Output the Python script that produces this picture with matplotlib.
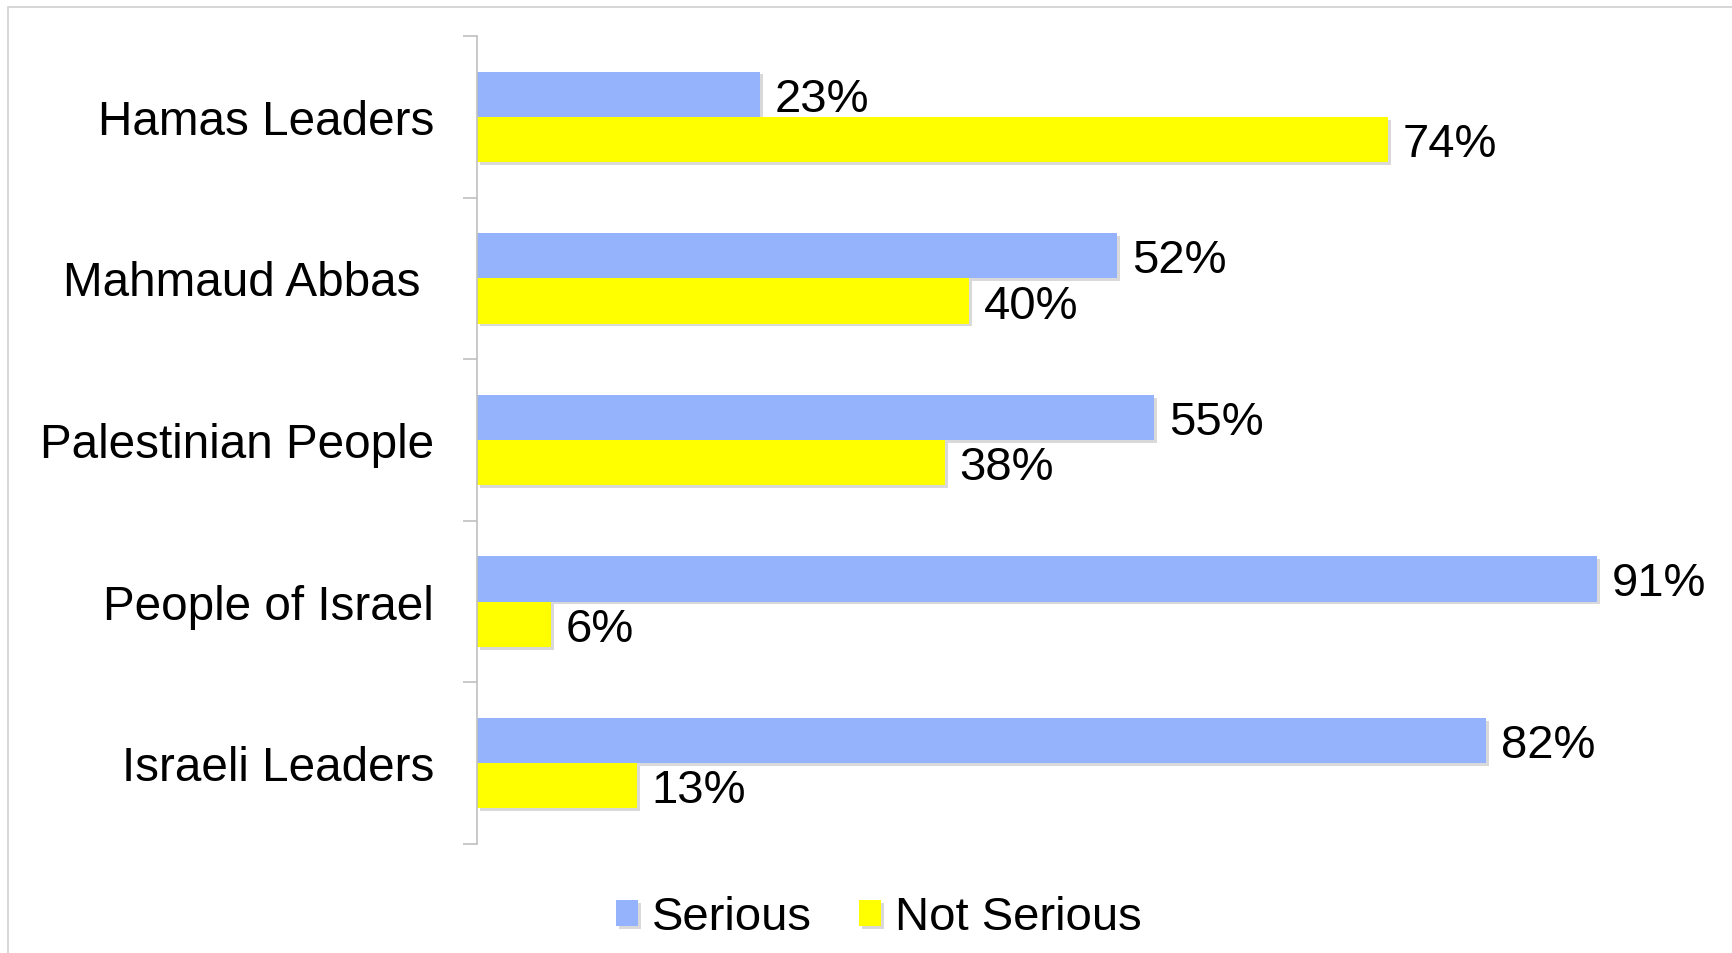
import matplotlib
matplotlib.use("Agg")
import matplotlib.pyplot as plt
import matplotlib.patheffects as pe
from matplotlib.patches import Rectangle
import numpy as np

plt.rcParams['font.family'] = ['Liberation Sans', 'DejaVu Sans']

categories = ["Hamas Leaders", "Mahmaud Abbas ", "Palestinian People",
              "People of Israel", "Israeli Leaders"]
serious = [23, 52, 55, 91, 82]
not_serious = [74, 40, 38, 6, 13]
series_names = ["Serious", "Not Serious"]

blue = "#94b3fc"
yellow = "#ffff00"
grey = "#c0c0c0"

fig = plt.figure(figsize=(17.32, 9.535), dpi=100)
ax = fig.add_axes([477 / 1732, 1 - 844 / 953, (1708 - 477) / 1732, (844 - 36.5) / 953])

# light frame around the chart area (left and top edges visible)
fig.patches.append(Rectangle((8 / 1732, -0.1), 1.2, 1 - 7 / 953 + 0.1,
                             transform=fig.transFigure, fill=False,
                             edgecolor="#cfcfcf", linewidth=1.2))

y = np.arange(len(categories))
h = 0.28
shadow = [pe.SimplePatchShadow(offset=(2, -2), shadow_rgbFace="#000000", alpha=0.15), pe.Normal()]

b1 = ax.barh(y - h / 2, serious, height=h, color=blue, label=series_names[0])
b2 = ax.barh(y + h / 2, not_serious, height=h, color=yellow, label=series_names[1])
for bars in (b1, b2):
    for p in bars:
        p.set_path_effects(shadow)

for bars, vals in ((b1, serious), (b2, not_serious)):
    for p, v in zip(bars, vals):
        ax.annotate(f"{v}%", (p.get_width(), p.get_y() + p.get_height() / 2),
                    xytext=(10.5, 0), textcoords="offset points",
                    ha="left", va="center_baseline", fontsize=34, color="black",
                    annotation_clip=False)

ax.set_xlim(0, 100)
ax.set_ylim(len(categories) - 0.5, -0.5)
ax.set_yticks(y)
ax.set_yticklabels(categories, fontsize=34.3)
ax.tick_params(axis="y", which="major", length=0, pad=31)
ax.set_yticks(np.arange(-0.5, len(categories), 1), minor=True)
ax.tick_params(axis="y", which="minor", length=10, width=1.2, color=grey)
ax.set_xticks([])
for s in ("top", "right", "bottom"):
    ax.spines[s].set_visible(False)
ax.spines["left"].set_color(grey)
ax.spines["left"].set_linewidth(1.2)

fig.legend(handles=[b1, b2], labels=series_names, loc="center",
           bbox_to_anchor=(879 / 1732, 1 - 918 / 953), ncol=2, frameon=False,
           fontsize=34, handlelength=0.46, handleheight=0.46,
           handletextpad=0.3, columnspacing=1.0, borderpad=0)

fig.savefig("out.png", dpi=100)
